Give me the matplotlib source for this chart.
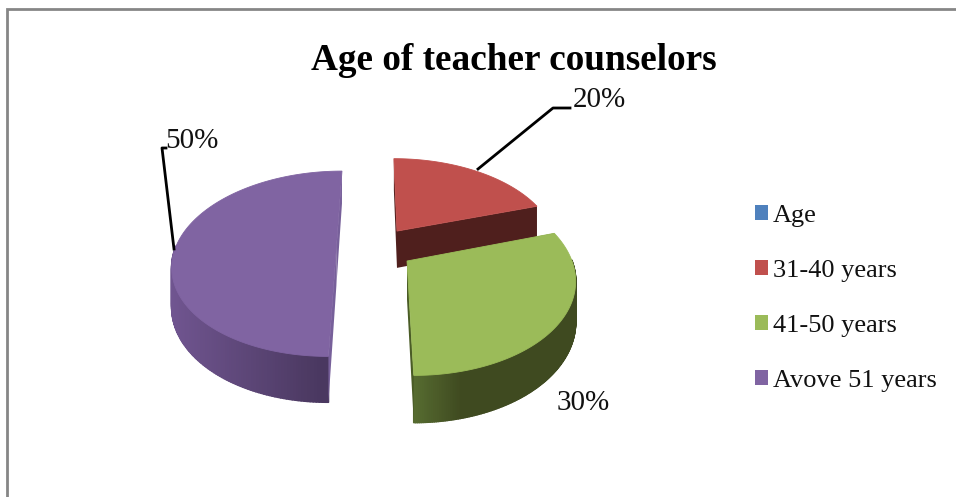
import numpy as np
import matplotlib
matplotlib.use("Agg")
import matplotlib.pyplot as plt
from matplotlib.patches import Patch, Polygon
from matplotlib.collections import PolyCollection
from matplotlib.colors import to_rgb

plt.rcParams['font.family'] = ['Liberation Serif', 'DejaVu Serif']

categories = ['Age', '31-40 years', '41-50 years', 'Avove 51 years']
values = [0, 20, 30, 50]
colors = ['#4F81BD', '#C0504D', '#9BBB59', '#8064A2']
side_light = ['#4F81BD', '#4F1F1D', '#566B30', '#705590']
side_dark = ['#4F81BD', '#4F1F1D', '#3F4A20', '#4A3860']
edge_colors = ['#4F81BD', '#4F1F1D', '#4A5C26', '#77609A']
title = 'Age of teacher counselors'

# pie projection, fitted by eye against the picture
cx, cy = 375.0, 248.0
rx, ry = 161.0, 90.0
persp = 0.17
depth = 38.0
explode = 0.24


def project(x, y, down=0.0):
    w = 1 + persp * y
    return np.column_stack([cx + rx * x / w, cy - ry * y / w + down * depth / w])


fig = plt.figure(figsize=(9.56, 4.97), dpi=100)
ax = fig.add_axes([0, 0, 1, 1])
ax.set_xlim(0, 956)
ax.set_ylim(497, 0)
ax.axis('off')

# frame left of the picture
ax.plot([7, 7, 956], [497, 9, 9], color='#868686', lw=2.0, solid_joinstyle='miter')

ax.text(514, 61, title, ha='center', va='center', fontsize=26.8, fontweight='bold', color='black')

fractions = np.array(values) / sum(values)
ends = np.cumsum(fractions) * 2 * np.pi
starts = ends - fractions * 2 * np.pi

for i in [3, 1, 2]:
    t0, t1 = starts[i], ends[i]
    mid = (t0 + t1) / 2
    ox, oy = explode * np.sin(mid), explode * np.cos(mid)
    t = np.linspace(t0, t1, 200)
    arc_x = ox + np.sin(t)
    arc_y = oy + np.cos(t)
    top = project(arc_x, arc_y)
    bottom = project(arc_x, arc_y, 1.0)
    centre = project(np.array([ox]), np.array([oy]))
    centre_b = project(np.array([ox]), np.array([oy]), 1.0)

    # outer wall, only the part that faces the viewer, shaded left to right
    front = np.where(np.cos(t[:-1]) < 0.02)[0]
    if len(front):
        quads = [[top[j], top[j + 1], bottom[j + 1], bottom[j]] for j in front]
        xs = bottom[front, 0]
        s = (xs - xs.min()) / (xs.max() - xs.min())
        s = np.clip(s * 1.05, 0, 1) if i == 3 else np.clip(s * 3.5, 0, 1)
        c0, c1 = np.array(to_rgb(side_light[i])), np.array(to_rgb(side_dark[i]))
        shades = [c0 + (c1 - c0) * v for v in s]
        ax.add_collection(PolyCollection(quads, facecolors=shades, edgecolors=shades,
                                         linewidths=1.2, zorder=2 + i))

    # radial walls
    for a, b in [(top[0], bottom[0]), (top[-1], bottom[-1])]:
        ax.add_patch(Polygon([centre[0], a, b, centre_b[0]], closed=True,
                             fc=edge_colors[i], ec='none', zorder=2.2 + i))

    # top face
    ax.add_patch(Polygon(np.vstack([centre, top]), closed=True, fc=colors[i],
                         ec=colors[i], lw=0.6, zorder=2.5 + i))

# data labels with leader lines
ax.plot([478, 553, 570], [169, 108, 108], color='black', lw=2.0, zorder=7)
ax.plot([174, 162, 166], [249, 148, 148], color='black', lw=2.0, zorder=7)
label_pos = [None, (599, 100), (583, 403), (192, 141)]
for v, pos in zip(values, label_pos):
    if pos is not None:
        ax.text(pos[0], pos[1], '%d%%' % v, ha='center', va='center', fontsize=21, color='#111111', zorder=8)

handles = [Patch(facecolor=c, edgecolor='none') for c in colors]
ax.legend(handles, categories, loc='upper left', bbox_to_anchor=(755, 205), bbox_transform=ax.transData,
          frameon=False, fontsize=19, handlelength=0.5, handleheight=0.5,
          handletextpad=0.19, labelspacing=1.25, borderpad=0, borderaxespad=0, labelcolor='#111111')

fig.savefig('out.png', dpi=100)
